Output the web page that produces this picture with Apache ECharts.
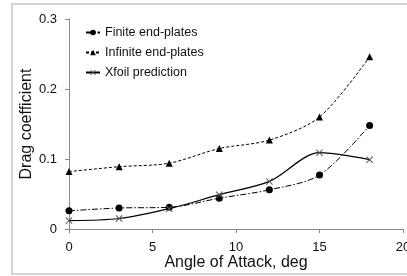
<!DOCTYPE html>
<html>
<head>
<meta charset="utf-8">
<script src="https://cdn.jsdelivr.net/npm/echarts@6/dist/echarts.min.js"></script>
<style>
  html, body { margin: 0; padding: 0; background: #fff; }
  #chart { width: 407px; height: 276px; }
</style>
</head>
<body>
<div id="chart"></div>
<script>
// angle of attack (deg)
var angles = [0, 3, 6, 9, 12, 15, 18];
// drag coefficient values
var finitePlates = [0.026, 0.030, 0.031, 0.044, 0.056, 0.077, 0.148];
var infinitePlates = [0.082, 0.089, 0.094, 0.115, 0.127, 0.160, 0.246];
var xfoilPrediction = [0.012, 0.015, 0.029, 0.049, 0.068, 0.109, 0.099];
var seriesNames = ['Finite end-plates', 'Infinite end-plates', 'Xfoil prediction'];

var font = 'Liberation Sans, Arial, sans-serif';
var crossPath = 'path://M0,1L1,0L10,9L9,10Z M9,0L10,1L1,10L0,9Z';

function pairs(ys) {
  return angles.map(function (a, i) { return [a, ys[i]]; });
}

var chart = echarts.init(document.getElementById('chart'));
var option = {
  animation: false,
  textStyle: { fontFamily: font },
  // light grey frame round the chart area
  graphic: [{
    type: 'rect',
    shape: { x: 12, y: 4, width: 410, height: 270 },
    style: { fill: 'none', stroke: '#d4d4d4', lineWidth: 2 },
    silent: true
  }],
  legend: {
    orient: 'vertical',
    left: 80,
    top: 21,
    itemWidth: 14,
    itemHeight: 7,
    itemGap: 7,
    data: seriesNames,
    textStyle: { fontSize: 12.5, color: '#111', fontFamily: font }
  },
  grid: { left: 69, right: 4, top: 19, bottom: 47, outerBoundsMode: 'none' },
  xAxis: {
    type: 'value',
    min: 0, max: 20, interval: 5,
    name: 'Angle of Attack, deg',
    nameLocation: 'middle',
    nameGap: 26,
    nameMoveOverlap: false,
    nameTextStyle: { fontSize: 16, color: '#111', verticalAlign: 'top' },
    axisLine: { lineStyle: { color: '#8a8a8a', width: 1 } },
    axisTick: { show: true, length: 4, lineStyle: { color: '#8a8a8a' } },
    axisLabel: { fontSize: 13, color: '#111', margin: 12 },
    splitLine: { show: false }
  },
  yAxis: {
    type: 'value',
    min: 0, max: 0.3, interval: 0.1,
    name: 'Drag coefficient',
    nameLocation: 'middle',
    nameGap: 34,
    nameMoveOverlap: false,
    nameTextStyle: { fontSize: 16, color: '#111' },
    axisLine: { show: true, lineStyle: { color: '#8a8a8a', width: 1 } },
    axisTick: { show: true, length: 4, lineStyle: { color: '#8a8a8a' } },
    axisLabel: { fontSize: 13, color: '#111', margin: 12 },
    splitLine: { show: false }
  },
  series: [
    {
      name: seriesNames[0],
      type: 'line',
      smooth: 0.3,
      data: pairs(finitePlates),
      symbol: 'circle',
      symbolSize: 7,
      itemStyle: { color: '#000' },
      lineStyle: { color: '#000', width: 1, type: [6, 2, 1.5, 2] }
    },
    {
      name: seriesNames[1],
      type: 'line',
      smooth: 0.3,
      data: pairs(infinitePlates),
      symbol: 'triangle',
      symbolSize: 7,
      itemStyle: { color: '#000' },
      lineStyle: { color: '#000', width: 1, type: [3, 2] }
    },
    {
      name: seriesNames[2],
      type: 'line',
      smooth: 0.3,
      data: pairs(xfoilPrediction),
      symbol: crossPath,
      symbolSize: 7,
      itemStyle: { color: '#555' },
      lineStyle: { color: '#000', width: 1.2, type: 'solid' }
    }
  ]
};
chart.setOption(option);
window.addEventListener('resize', function () {
  chart.resize();
});
</script>
</body>
</html>
